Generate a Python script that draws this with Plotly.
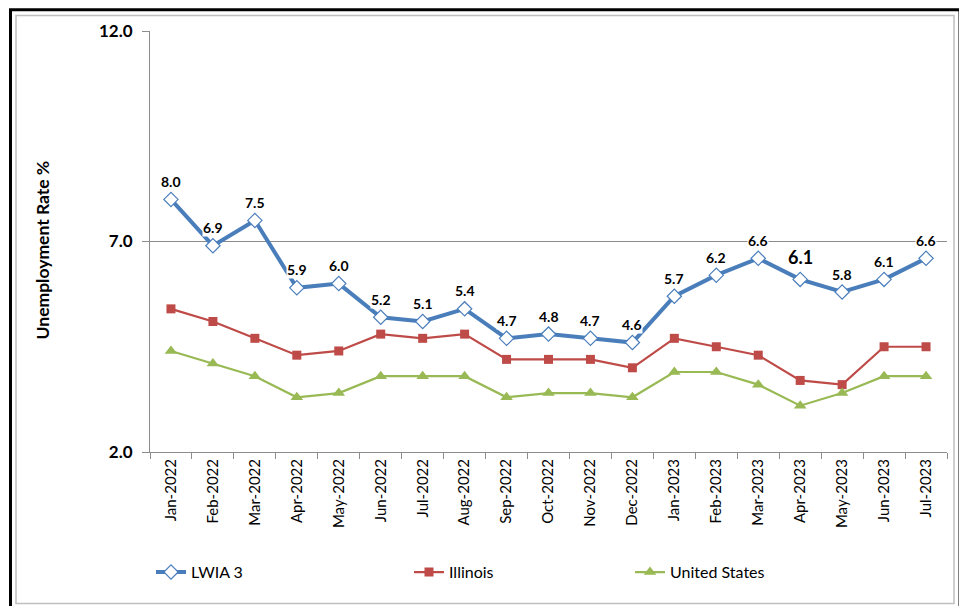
import plotly.graph_objects as go

months = ["Jan-2022", "Feb-2022", "Mar-2022", "Apr-2022", "May-2022", "Jun-2022",
          "Jul-2022", "Aug-2022", "Sep-2022", "Oct-2022", "Nov-2022", "Dec-2022",
          "Jan-2023", "Feb-2023", "Mar-2023", "Apr-2023", "May-2023", "Jun-2023", "Jul-2023"]
lwia3 = [8.0, 6.9, 7.5, 5.9, 6.0, 5.2, 5.1, 5.4, 4.7, 4.8, 4.7, 4.6, 5.7, 6.2, 6.6, 6.1, 5.8, 6.1, 6.6]
illinois = [5.4, 5.1, 4.7, 4.3, 4.4, 4.8, 4.7, 4.8, 4.2, 4.2, 4.2, 4.0, 4.7, 4.5, 4.3, 3.7, 3.6, 4.5, 4.5]
united_states = [4.4, 4.1, 3.8, 3.3, 3.4, 3.8, 3.8, 3.8, 3.3, 3.4, 3.4, 3.3, 3.9, 3.9, 3.6, 3.1, 3.4, 3.8, 3.8]
y_ticks = [2.0, 7.0, 12.0]

FONT = "Lato"
BLUE = "#4A7EBB"
RED = "#BE4B48"
GREEN = "#98B954"
AXIS = "#8C8C8C"

OFF = 8  # page body margin
W, H = 967 - OFF, 606 - OFF
L, T = 150 - OFF, 28 - OFF
R = W - (947 - OFF)
B = H - (452 - OFF)
PW, PH = W - L - R, H - T - B


def px(x):  # screen x -> paper
    return (x - OFF - L) / PW


def py(y):  # screen y -> paper
    return (H - B - (y - OFF)) / PH


fig = go.Figure()
fig.add_trace(go.Scatter(
    x=months, y=illinois, name="Illinois", mode="lines+markers",
    line=dict(color=RED, width=2.2),
    marker=dict(symbol="square", size=9, color=RED),
    legend="legend2"))
fig.add_trace(go.Scatter(
    x=months, y=united_states, name="United States", mode="lines+markers",
    line=dict(color=GREEN, width=2.2),
    marker=dict(symbol="triangle-up", size=11, color=GREEN),
    legend="legend3"))
fig.add_trace(go.Scatter(
    x=months, y=lwia3, name="LWIA 3", mode="lines+markers",
    line=dict(color=BLUE, width=4),
    marker=dict(symbol="diamond", size=11, color="white", line=dict(color=BLUE, width=1.2)),
    legend="legend"))

annotations = []
for i, (m, v) in enumerate(zip(months, lwia3)):
    big = (i == 15)
    annotations.append(dict(
        x=m, y=v, xref="x", yref="y", text=f"{v:.1f}", showarrow=False,
        yshift=22 if big else 18, bgcolor="white", borderpad=0,
        font=dict(family=FONT, size=18 if big else 14, color="black", weight="bold")))

annotations.append(dict(
    x=px(42), y=py(249), xref="paper", yref="paper", text="Unemployment Rate %",
    textangle=-90, showarrow=False, xanchor="center", yanchor="middle",
    font=dict(family=FONT, size=17.5, color="black", weight="bold")))

shapes = [
    dict(type="rect", xref="paper", yref="paper", x0=px(16), x1=px(954), y0=py(604.5), y1=py(12.5),
         line=dict(color="#BFBFBF", width=1.5), layer="below"),
    dict(type="rect", xref="paper", yref="paper", x0=px(10.5), x1=px(960), y0=py(625), y1=py(6.5),
         line=dict(color="black", width=3), layer="below"),
]

legend_common = dict(orientation="h", yanchor="middle", xanchor="left", y=py(573),
                     font=dict(family=FONT, size=16, color="black"),
                     bgcolor="rgba(0,0,0,0)", itemwidth=30, borderwidth=0)

fig.update_layout(
    width=W, height=H, autosize=False,
    margin=dict(l=L, r=R, t=T, b=B, pad=0),
    paper_bgcolor="white", plot_bgcolor="white",
    showlegend=True,
    legend=dict(legend_common, x=px(151)),
    legend2=dict(legend_common, x=px(409)),
    legend3=dict(legend_common, x=px(630)),
    annotations=annotations, shapes=shapes,
    xaxis=dict(type="category", range=[-0.5, len(months) - 0.5],
               tickson="boundaries", ticks="outside", ticklen=6,
               tickcolor=AXIS, showline=True, linecolor=AXIS, linewidth=1,
               tickangle=-90, showgrid=False,
               tickfont=dict(family=FONT, size=15, color="black")),
    yaxis=dict(range=[2, 12], tickvals=y_ticks, tickformat=".1f", ticks="outside", ticklen=7,
               tickcolor=AXIS, showline=True, linecolor=AXIS, linewidth=1,
               showgrid=True, gridcolor=AXIS, gridwidth=1, zeroline=False,
               ticklabelstandoff=6,
               tickfont=dict(family=FONT, size=17, color="black", weight="bold")),
)

fig.write_html("out.html")
